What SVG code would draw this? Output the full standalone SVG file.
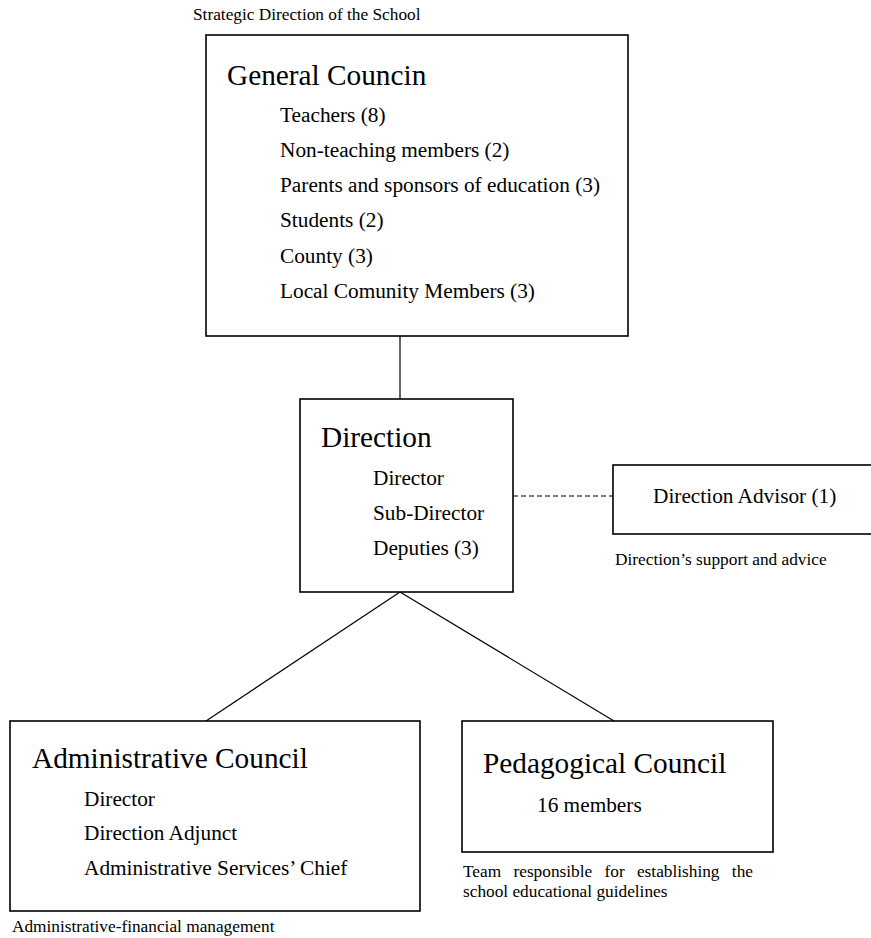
<svg xmlns="http://www.w3.org/2000/svg" width="871" height="938" viewBox="0 0 871 938">
<style>
text{font-family:"Liberation Serif","Times New Roman",serif;fill:#000}
.t{font-size:29.3px}
.i{font-size:21.3px}
.c{font-size:17.3px}
.box{fill:#fff;stroke:#000;stroke-width:1.6}
.ln{stroke:#000;stroke-width:1.2;fill:none}
.dash{stroke:#000;stroke-width:1.2;stroke-dasharray:5,3;fill:none}
</style>
<rect width="871" height="938" fill="#fff"/>
<g id="connectors">
<line class="ln" x1="400" y1="336" x2="400" y2="399"/>
<line class="ln" x1="400" y1="592" x2="206" y2="721"/>
<line class="ln" x1="400" y1="592" x2="614" y2="721"/>
<line class="dash" x1="513" y1="496" x2="613" y2="496"/>
</g>
<g id="general-council">
<text class="c" x="193" y="20">Strategic Direction of the School</text>
<rect class="box" x="206" y="35" width="422" height="301"/>
<text class="t" x="227" y="85">General Councin</text>
<text class="i" x="280" y="122">Teachers (8)</text>
<text class="i" x="280" y="157">Non-teaching members (2)</text>
<text class="i" x="280" y="192">Parents and sponsors of education (3)</text>
<text class="i" x="280" y="227">Students (2)</text>
<text class="i" x="280" y="263">County (3)</text>
<text class="i" x="280" y="298">Local Comunity Members (3)</text>
</g>
<g id="direction">
<rect class="box" x="300" y="399" width="213" height="193"/>
<text class="t" x="321" y="447">Direction</text>
<text class="i" x="373" y="485">Director</text>
<text class="i" x="373" y="520">Sub-Director</text>
<text class="i" x="373" y="555">Deputies (3)</text>
</g>
<g id="direction-advisor">
<rect class="box" x="613" y="465" width="262" height="69"/>
<text class="i" x="653" y="503">Direction Advisor (1)</text>
<text class="c" x="615" y="565">Direction’s support and advice</text>
</g>
<g id="administrative-council">
<rect class="box" x="10" y="721" width="410" height="190"/>
<text class="t" x="32" y="768">Administrative Council</text>
<text class="i" x="84" y="806">Director</text>
<text class="i" x="84" y="840">Direction Adjunct</text>
<text class="i" x="84" y="875">Administrative Services’ Chief</text>
<text class="c" x="12" y="932">Administrative-financial management</text>
</g>
<g id="pedagogical-council">
<rect class="box" x="462" y="721" width="311" height="131"/>
<text class="t" x="483" y="773">Pedagogical Council</text>
<text class="i" x="537" y="812">16 members</text>
<text class="c" x="463" y="877" word-spacing="8">Team responsible for establishing the</text>
<text class="c" x="463" y="897">school educational guidelines</text>
</g>
</svg>
